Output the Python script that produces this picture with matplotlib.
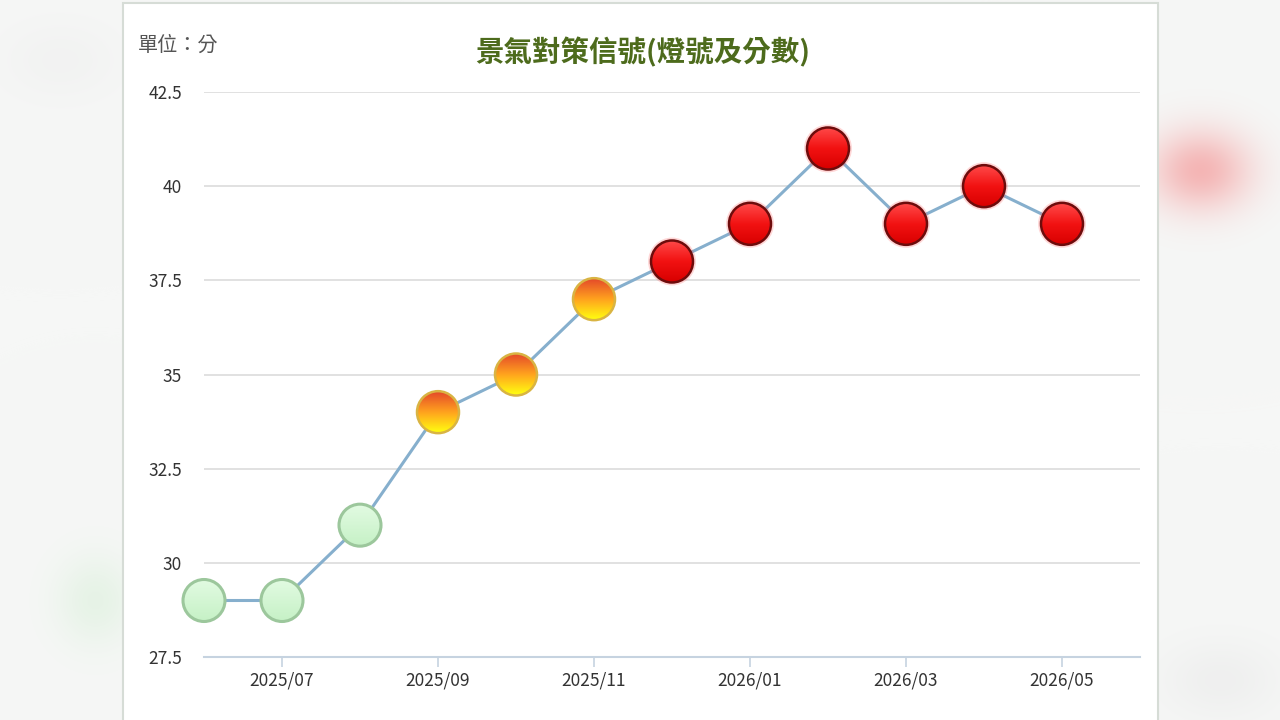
import numpy as np
import matplotlib.pyplot as plt
from matplotlib.patches import Ellipse, Rectangle
from matplotlib.colors import to_rgb

plt.rcParams['font.family'] = ['Noto Sans CJK TC', 'DejaVu Sans']

# -----------------------------
# Daten
# -----------------------------
months = ["2025/06", "2025/07", "2025/08", "2025/09", "2025/10", "2025/11",
          "2025/12", "2026/01", "2026/02", "2026/03", "2026/04", "2026/05"]
scores = [29, 29, 31, 34, 35, 37, 38, 39, 41, 39, 40, 39]
signals = ["green", "green", "green", "yellow-red", "yellow-red", "yellow-red",
           "red", "red", "red", "red", "red", "red"]
shown_ticks = ["2025/07", "2025/09", "2025/11", "2026/01", "2026/03", "2026/05"]
yticks = [27.5, 30, 32.5, 35, 37.5, 40, 42.5]

# Lichtfarben (Verlauf oben->unten, Rand, Randbreite)
lamp_style = {
    "green": (["#e2fbe2", "#c6f1c6"], "#9cc79c", 2.2),
    "yellow-red": (["#e4482a", "#ffa21e", "#ffff10"], "#d9b443", 1.8),
    "red": (["#ff4a4a", "#f21212", "#d80000"], "#6e0c0c", 1.8),
}

W, H = 1280, 720
fig = plt.figure(figsize=(W / 100, H / 100), dpi=100)

# -----------------------------
# Hintergrund (unscharf)
# -----------------------------
bg = fig.add_axes([0, 0, 1, 1], zorder=-10)
yy, xx = np.mgrid[0:H, 0:W]
img = np.ones((H, W, 3)) * np.array(to_rgb("#f6f7f6"))
def blob(cx, cy, sx, sy, color, strength):
    global img
    g = np.exp(-(((xx - cx) / sx) ** 2 + ((yy - cy) / sy) ** 2))[..., None] * strength
    img = img * (1 - g) + np.array(to_rgb(color)) * g
blob(1200, 170, 50, 40, "#f4a0a0", 0.75)
blob(95, 600, 40, 45, "#dcf0dc", 0.6)
blob(1220, 680, 60, 40, "#e8e8e8", 0.5)
blob(60, 60, 60, 40, "#ececec", 0.4)
bg.imshow(img, extent=[0, W, H, 0], aspect="auto")
bg.set_xlim(0, W)
bg.set_ylim(H, 0)
bg.axis("off")
bg.add_patch(Rectangle((123, 3), 1035, 730, facecolor="white",
                       edgecolor="#d6dcd6", lw=1.5))

# -----------------------------
# Diagramm
# -----------------------------
ax = fig.add_axes([204 / W, 1 - 657 / H, 936 / W, 565 / H])
ax.set_facecolor("none")
x = np.arange(len(months))

ax.set_yticks(yticks)
ax.set_yticklabels([f"{v:g}" for v in yticks])
ax.set_xticks([months.index(m) for m in shown_ticks])
ax.set_xticklabels(shown_ticks)
ax.grid(axis="y", color="#dcdcdc", lw=1.2)
ax.set_axisbelow(True)
for s in ["top", "right", "left"]:
    ax.spines[s].set_visible(False)
ax.spines["bottom"].set_color("#c6d3e0")
ax.spines["bottom"].set_linewidth(1.5)
ax.tick_params(axis="y", length=0, pad=16, labelsize=12.5, labelcolor="#333333")
ax.tick_params(axis="x", length=7.5, width=1.2, color="#c6d3e0", pad=3,
               labelsize=12.5, labelcolor="#333333")

ax.plot(x, scores, color="#86afcd", lw=2.2, zorder=2, clip_on=False)

# Kugeln mit Farbverlauf
r_px = 21
rx = r_px / 78.0
ry = r_px / (565 / 15.0)
for xi, yi, sig in zip(x, scores, signals):
    stops, edge, lw = lamp_style[sig]
    cols = np.array([to_rgb(c) for c in stops])
    t = np.linspace(0, 1, 64)
    pos = np.linspace(0, 1, len(cols))
    grad = np.stack([np.interp(t, pos, cols[:, k]) for k in range(3)], axis=-1)
    grad = np.repeat(grad[:, None, :], 2, axis=1)
    if sig == "red":
        glow = Ellipse((xi, yi), 2 * rx * 1.14, 2 * ry * 1.14, facecolor="#ff6060",
                       edgecolor="none", alpha=0.25, zorder=3, clip_on=False)
        ax.add_patch(glow)
    clip = Ellipse((xi, yi), 2 * rx, 2 * ry, transform=ax.transData)
    im = ax.imshow(grad, extent=[xi - rx, xi + rx, yi - ry, yi + ry],
                   origin="upper", aspect="auto", zorder=4, interpolation="bilinear")
    im.set_clip_box(fig.bbox)
    im.set_clip_path(clip)
    ax.add_patch(Ellipse((xi, yi), 2 * rx, 2 * ry, facecolor="none",
                         edgecolor=edge, lw=lw, zorder=5, clip_on=False))
ax.set_xlim(0, 12)
ax.set_ylim(27.5, 42.5)

# -----------------------------
# Texte
# -----------------------------
fig.text(643 / W, 1 - 52 / H, "景氣對策信號(燈號及分數)", ha="center", va="center",
         fontsize=20.5, fontweight="bold", color="#4d6b1c")
fig.text(138 / W, 1 - 45 / H, "單位：分", ha="left", va="center",
         fontsize=14.5, color="#555555")

fig.savefig("out.png", dpi=100)
